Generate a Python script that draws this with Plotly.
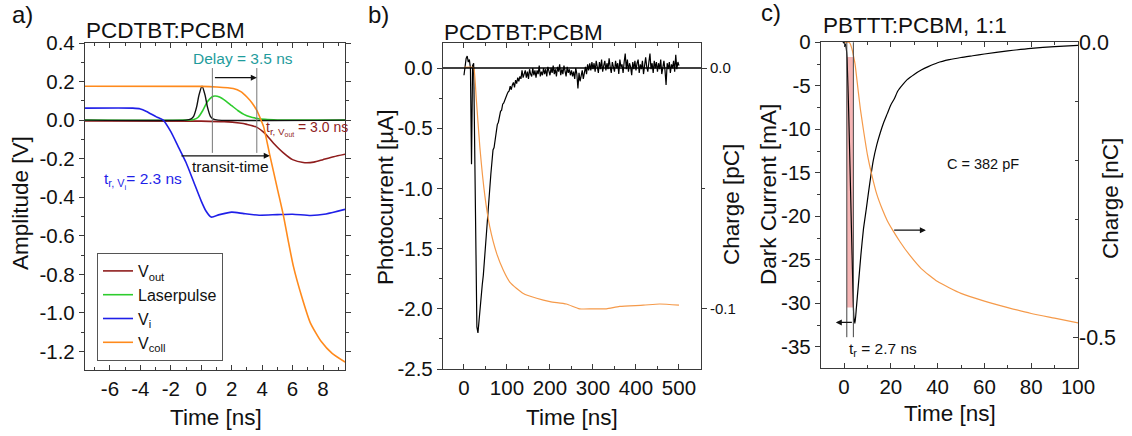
import numpy as np
import plotly.graph_objects as go

FONT = "Arial, Liberation Sans, sans-serif"

# ---------------- Panel a data ----------------
a_vout_t = [-7.64, 0.0, 1.5, 2.5, 3.0, 3.6, 4.2, 4.75, 5.4, 6.0, 6.7, 7.4, 8.0, 8.7, 9.45]
a_vout_v = [-0.004, -0.005, -0.008, -0.015, -0.022, -0.035, -0.07, -0.12, -0.17, -0.205, -0.22, -0.218, -0.205, -0.19, -0.177]

a_laser_t = [-7.64, -1.0, -0.5, -0.2, 0.1, 0.4, 0.7, 0.9, 1.2, 1.6, 2.0, 2.4, 2.8, 3.2, 3.6, 4.2, 5.0, 9.45]
a_laser_v = [0.0, 0.0, 0.003, 0.015, 0.05, 0.095, 0.12, 0.125, 0.12, 0.1, 0.075, 0.05, 0.03, 0.017, 0.01, 0.004, 0.001, 0.0]

a_pulse_t = [-7.64, -1.0, -0.7, -0.5, -0.3, -0.15, 0.05, 0.25, 0.4, 0.6, 0.8, 1.1, 9.45]
a_pulse_v = [0.0, 0.0, 0.005, 0.02, 0.07, 0.13, 0.176, 0.13, 0.07, 0.02, 0.005, 0.0, 0.0]

a_vi_t = [-7.64, -4.5, -4.0, -3.6, -2.95, -2.5, -2.0, -1.5, -1.0, -0.5, 0.0, 0.3, 0.65, 1.2, 2.0, 2.8, 3.8, 5.0, 6.0, 7.2, 8.2, 9.45]
a_vi_v = [0.062, 0.062, 0.058, 0.045, 0.017, 0.0, -0.06, -0.14, -0.22, -0.32, -0.42, -0.47, -0.503, -0.49, -0.477, -0.485, -0.493, -0.49, -0.488, -0.495, -0.487, -0.463]

a_vcoll_t = [-7.64, 0.0, 1.0, 2.1, 2.6, 3.0, 3.35, 3.65, 3.9, 4.1, 4.5, 5.0, 5.4, 5.7, 6.06, 6.6, 7.16, 7.9, 8.6, 9.45]
a_vcoll_v = [0.176, 0.175, 0.172, 0.164, 0.148, 0.12, 0.088, 0.05, 0.005, -0.035, -0.18, -0.355, -0.495, -0.62, -0.76, -0.915, -1.05, -1.15, -1.21, -1.255]

# ---------------- Panel b data ----------------
b_time = np.arange(0, 500.01, 2.5)
b_current = [
    -0.06, 0.03, 0.08, 0.10, 0.05, 0.07, 0.00, -0.80, 0.02, 0.04,
    -0.90, -1.70, -2.15, -2.20, -2.08, -1.98, -1.90, -1.80, -1.72, -1.60,
    -1.45, -1.32, -1.18, -1.05, -0.95, -0.88, -0.78, -0.68, -0.66, -0.58,
    -0.52, -0.47, -0.45, -0.40, -0.36, -0.35, -0.30, -0.29, -0.26, -0.25,
    -0.22, -0.20, -0.19, -0.15, -0.18, -0.14, -0.12, -0.16, -0.10, -0.13,
    -0.08, -0.11, -0.07, -0.09, -0.02, -0.08,
    -0.05, -0.02, -0.08, -0.03, -0.09, -0.01, -0.05, -0.07, 0.00, -0.06, -0.02, -0.08,
    -0.02, -0.05, 0.02, -0.07, -0.03, -0.06, 0.00, -0.05, -0.01, -0.07, 0.01, -0.03,
    -0.06, 0.00, -0.04, 0.02, -0.05, -0.01, -0.07, 0.01, -0.03, 0.03,
    -0.06, -0.01, -0.05, 0.02, -0.02, -0.07, 0.01, -0.04, -0.01, -0.06,
    -0.02, -0.07, -0.03, -0.09, 0.00, -0.05, -0.17, -0.04, -0.11, -0.06,
    -0.02, -0.09, -0.03, 0.01, -0.05, 0.03, -0.02, 0.04, -0.02, 0.05,
    -0.01, 0.04, -0.03, 0.06, 0.01, -0.04, 0.05, -0.01, 0.07, -0.03,
    0.02, 0.06, -0.02, 0.04, -0.01, 0.08, 0.01, -0.04, 0.05, 0.02,
    -0.03, 0.06, 0.00, 0.04, -0.05, 0.07, 0.01, 0.03, -0.04, 0.05,
    0.12, -0.01, 0.07, -0.03, 0.04, 0.01, -0.06, 0.05, -0.01, 0.06,
    -0.02, 0.04, 0.07, -0.04, 0.03, -0.01, 0.06, -0.05, 0.04, 0.09,
    0.01, -0.03, 0.05, 0.12, -0.01, 0.04, -0.04, 0.06, 0.00, 0.05,
    -0.03, 0.04, -0.01, 0.07, -0.05, 0.03, 0.06, -0.02, -0.14, 0.04,
    -0.01, 0.05, -0.04, 0.03, 0.00, 0.06, -0.03, 0.11, -0.01, 0.05, 0.02,
]
b_charge_t = [0, 21, 23, 28.7, 37, 48.5, 60, 76, 91.5, 107, 138, 169, 200, 238, 269, 300, 331, 362, 417, 455, 500]
b_charge_v = [0.0003, 0.0003, 0.0, -0.013, -0.033, -0.053, -0.066, -0.077, -0.084, -0.089, -0.0936, -0.0956, -0.097, -0.098, -0.1, -0.1, -0.1, -0.099, -0.0985, -0.098, -0.0985]

# ---------------- Panel c data ----------------
c_time = [-0.5, 0.5, 1.0, 1.3, 2.0, 2.8, 3.5, 4.2, 4.7, 5.3, 6.1, 7.2, 8.3, 9.5, 10.5, 11.5, 12.5, 14, 15.5, 17, 18.5, 20, 21.5, 23, 25, 27, 30, 33, 36, 40, 45, 50, 55, 60, 70, 80, 90, 100]
c_current = [0.0, -0.2, -0.8, -1.8, -8.0, -17.0, -25.0, -31.5, -32.3, -30.5, -28.0, -24.5, -21.5, -19.2, -17.2, -15.3, -13.6, -11.8, -10.4, -9.2, -8.2, -7.2, -6.5, -5.6, -4.9, -4.3, -3.7, -3.2, -2.8, -2.35, -2.0, -1.75, -1.55, -1.35, -1.0, -0.7, -0.5, -0.35]
c_charge_t = [0.4, 2.0, 2.6, 3.3, 4.0, 4.7, 6.0, 7.0, 8.3, 10, 11.8, 14, 16.5, 18.5, 20.8, 24, 28, 33, 40, 50, 60, 70, 80, 90, 100]
c_charge_v = [0.0, 0.0, -0.002, -0.01, -0.022, -0.036, -0.08, -0.113, -0.148, -0.19, -0.223, -0.257, -0.284, -0.302, -0.318, -0.338, -0.36, -0.383, -0.405, -0.425, -0.438, -0.449, -0.459, -0.467, -0.475]

# tick labels
a_xticks = [-6, -4, -2, 0, 2, 4, 6, 8]
a_xlabels = ["-6", "-4", "-2", "0", "2", "4", "6", "8"]
a_yticks = [0.4, 0.2, 0.0, -0.2, -0.4, -0.6, -0.8, -1.0, -1.2]
a_ylabels = ["0.4", "0.2", "0.0", "-0.2", "-0.4", "-0.6", "-0.8", "-1.0", "-1.2"]
b_xticks = [0, 100, 200, 300, 400, 500]
b_xlabels = ["0", "100", "200", "300", "400", "500"]
b_yticks = [0.0, -0.5, -1.0, -1.5, -2.0, -2.5]
b_ylabels = ["0.0", "-0.5", "-1.0", "-1.5", "-2.0", "-2.5"]
b_qticks = [0.0, -0.1]
b_qlabels = ["0.0", "-0.1"]
c_xticks = [0, 20, 40, 60, 80, 100]
c_xlabels = ["0", "20", "40", "60", "80", "100"]
c_yticks = [0, -5, -10, -15, -20, -25, -30, -35]
c_ylabels = ["0", "-5", "-10", "-15", "-20", "-25", "-30", "-35"]
c_qticks = [0.0, -0.5]
c_qlabels = ["0.0", "-0.5"]

W, H = 1132, 436
def px(x):
    return x / W
def py(y):
    return 1 - y / H

C_VOUT = "#8f1d1d"
C_LASER = "#2ecc2e"
C_VI = "#1f1fe8"
C_COLL = "#ff8a1c"
C_COLL_THIN = "#f59a4a"
C_TEAL = "#1f9c9c"
AX = "#3a3a3a"

fig = go.Figure()

# Panel a
fig.add_trace(go.Scatter(x=a_vout_t, y=a_vout_v, mode="lines", name="V<sub>out</sub>",
                         line=dict(color=C_VOUT, width=1.6, shape="spline", smoothing=0.6), xaxis="x", yaxis="y"))
fig.add_trace(go.Scatter(x=a_laser_t, y=a_laser_v, mode="lines", name="Laserpulse",
                         line=dict(color=C_LASER, width=1.6, shape="spline", smoothing=0.6), xaxis="x", yaxis="y"))
fig.add_trace(go.Scatter(x=a_pulse_t, y=a_pulse_v, mode="lines", showlegend=False,
                         line=dict(color="#111111", width=1.4, shape="spline", smoothing=0.6), xaxis="x", yaxis="y"))
fig.add_trace(go.Scatter(x=a_vi_t, y=a_vi_v, mode="lines", name="V<sub>i</sub>",
                         line=dict(color=C_VI, width=1.6, shape="spline", smoothing=0.6), xaxis="x", yaxis="y"))
fig.add_trace(go.Scatter(x=a_vcoll_t, y=a_vcoll_v, mode="lines", name="V<sub>coll</sub>",
                         line=dict(color=C_COLL, width=1.6, shape="spline", smoothing=0.6), xaxis="x", yaxis="y"))

# Panel b
fig.add_trace(go.Scatter(x=b_time, y=b_current, mode="lines", showlegend=False,
                         line=dict(color="#000000", width=1.2), xaxis="x2", yaxis="y2"))
fig.add_trace(go.Scatter(x=b_charge_t, y=b_charge_v, mode="lines", showlegend=False,
                         line=dict(color=C_COLL_THIN, width=1.2, shape="spline", smoothing=0.6), xaxis="x2", yaxis="y4"))

# Panel c
fig.add_trace(go.Scatter(x=c_time, y=c_current, mode="lines", showlegend=False,
                         line=dict(color="#000000", width=1.2, shape="spline", smoothing=0.5), xaxis="x3", yaxis="y3"))
fig.add_trace(go.Scatter(x=c_charge_t, y=c_charge_v, mode="lines", showlegend=False,
                         line=dict(color=C_COLL_THIN, width=1.2, shape="spline", smoothing=0.5), xaxis="x3", yaxis="y5"))

tickfont = dict(family=FONT, size=20.5, color="#111")

def xax(domain, anchor, rng, vals, labels, minor_dtick):
    return dict(domain=domain, anchor=anchor, range=rng, tickmode="array", tickvals=vals, ticktext=labels,
                showline=True, linecolor=AX, linewidth=1.3, mirror="ticks", ticks="inside", ticklen=5,
                tickcolor=AX, showgrid=False, zeroline=False, tickfont=tickfont, automargin=False,
                minor=dict(tickmode="linear", tick0=0, dtick=minor_dtick, ticks="inside", ticklen=3, tickcolor=AX))

def yax(domain, anchor, rng, vals, labels, minor_dtick, mirror):
    return dict(domain=domain, anchor=anchor, range=rng, tickmode="array", tickvals=vals, ticktext=labels,
                showline=True, linecolor=AX, linewidth=1.3, mirror=mirror, ticks="outside", ticklen=5,
                tickcolor=AX, showgrid=False, zeroline=False, tickfont=tickfont, automargin=False,
                minor=dict(tickmode="linear", tick0=0, dtick=minor_dtick, ticks="outside", ticklen=3, tickcolor=AX))

fig.update_layout(
    template="none",
    width=W, height=H, margin=dict(l=0, r=0, t=0, b=0, pad=0, autoexpand=False),
    paper_bgcolor="white", plot_bgcolor="white",
    font=dict(family=FONT, color="#111"),
    xaxis=xax([px(85), px(345)], "y", [-7.64, 9.446], a_xticks, a_xlabels, 1),
    yaxis=yax([py(370), py(43)], "x", [-1.296, 0.4], a_yticks, a_ylabels, 0.1, "ticks"),
    xaxis2=xax([px(443), px(701)], "y2", [-48.8, 551.2], b_xticks, b_xlabels, 50),
    yaxis2=yax([py(369), py(43)], "x2", [-2.5, 0.208], b_yticks, b_ylabels, 0.25, True),
    xaxis3=xax([px(821), px(1078)], "y3", [-9.83, 100], c_xticks, c_xlabels, 10),
    yaxis3=yax([py(368), py(42)], "x3", [-37.44, 0.03], c_yticks, c_ylabels, 2.5, True),
    yaxis4=dict(overlaying="y2", side="right", anchor="x2", range=[-0.125, 0.0104], tickmode="array",
                tickvals=b_qticks, ticktext=b_qlabels, showline=False, ticks="outside", ticklen=5, tickcolor=AX,
                showgrid=False, zeroline=False, tickfont=dict(family=FONT, size=15, color="#111"), automargin=False,
                minor=dict(tickmode="linear", tick0=0, dtick=0.05, ticks="outside", ticklen=3, tickcolor=AX)),
    yaxis5=dict(overlaying="y3", side="right", anchor="x3", range=[-0.5513, 0.0005], tickmode="array",
                tickvals=c_qticks, ticktext=c_qlabels, showline=False, ticks="inside", ticklen=5, tickcolor=AX,
                showgrid=False, zeroline=False, tickfont=dict(family=FONT, size=21.5, color="#111"), automargin=False,
                minor=dict(tickmode="linear", tick0=0, dtick=0.1, ticks="inside", ticklen=3, tickcolor=AX)),
    legend=dict(x=px(97), y=py(253), xanchor="left", yanchor="top", bgcolor="white",
                bordercolor="#555", borderwidth=1, font=dict(family=FONT, size=16, color="#111"),
                tracegroupgap=0, itemwidth=30),
    showlegend=True,
)

shapes = []
# panel a vertical guide lines
for xv in [0.73, 3.65]:
    shapes.append(dict(type="line", xref="x", yref="y", x0=xv, x1=xv, y0=0.27, y1=-0.17,
                       line=dict(color="#777", width=1)))
# panel b zero line
shapes.append(dict(type="line", xref="x2 domain", yref="y2", x0=0, x1=1, y0=0, y1=0,
                   line=dict(color="#000", width=1.5)))
# panel c shaded rise region and guides
shapes.append(dict(type="rect", xref="x3", yref="y3", x0=1.2, x1=4.0, y0=-30.5, y1=-1.7,
                   fillcolor="rgba(238,120,120,0.55)", line=dict(width=0), layer="below"))
for xv in [1.2, 4.0]:
    shapes.append(dict(type="line", xref="x3", yref="y3", x0=xv, x1=xv, y0=0, y1=-33.9,
                       line=dict(color="#444", width=1)))
fig.update_layout(shapes=shapes)

ann = []
def ptext(text, x, y, size, angle=0, color="#111", xanchor="center"):
    ann.append(dict(text=text, x=px(x), y=py(y), xref="paper", yref="paper", showarrow=False,
                    xanchor=xanchor, yanchor="middle", textangle=angle,
                    font=dict(family=FONT, size=size, color=color)))

ptext("a)", 22, 15, 24)
ptext("b)", 378, 15, 24)
ptext("c)", 771, 13, 24)
ptext("PCDTBT:PCBM", 84, 31, 22.5, xanchor="left")
ptext("PCDTBT:PCBM", 442, 32, 22.5, xanchor="left")
ptext("PBTTT:PCBM, 1:1", 821, 26, 22.5, xanchor="left")
ptext("Amplitude [V]", 21, 203, 22.5, angle=-90)
ptext("Time [ns]", 216, 417, 22.5)
ptext("Photocurrent [µA]", 385, 197, 22.5, angle=-90)
ptext("Charge [pC]", 731, 205, 22.5, angle=-90)
ptext("Time [ns]", 572, 417, 22.5)
ptext("Dark Current [mA]", 768, 195, 22.5, angle=-90)
ptext("Charge [nC]", 1110, 199, 22.5, angle=-90)
ptext("Time [ns]", 950, 413, 22.5)

def dtext(text, x, y, xr, yr, size, color="#111", xanchor="center"):
    ann.append(dict(text=text, x=x, y=y, xref=xr, yref=yr, showarrow=False, xanchor=xanchor,
                    yanchor="middle", font=dict(family=FONT, size=size, color=color)))

def arrow(x0, y0, x1, y1, xr, yr):
    ann.append(dict(text="", x=x1, y=y1, ax=x0, ay=y0, xref=xr, yref=yr, axref=xr, ayref=yr,
                    showarrow=True, arrowhead=2, arrowsize=1, arrowwidth=1.2, arrowcolor="#111"))

dtext("Delay = 3.5 ns", 2.75, 0.32, "x", "y", 15.5, C_TEAL)
arrow(0.8, 0.22, 3.65, 0.22, "x", "y")
arrow(-1.4, -0.185, 4.5, -0.185, "x", "y")
dtext("transit-time", 1.9, -0.243, "x", "y", 15.5)
dtext("t<sub>r, V<sub>out</sub></sub> = 3.0 ns", 4.1, -0.045, "x", "y", 14, C_VOUT, xanchor="left")
dtext("t<sub>r, V<sub>i</sub></sub>= 2.3 ns", -6.55, -0.317, "x", "y", 15.5, C_VI, xanchor="left")

dtext("C = 382 pF", 59.6, -14.0, "x3", "y3", 14.5)
dtext("t<sub>r</sub> = 2.7 ns", 1.1, -35.3, "x3", "y3", 15.5, xanchor="left")
arrow(4.0, -32.2, -3.5, -32.2, "x3", "y3")
arrow(20.8, -21.6, 35, -21.6, "x3", "y3")

fig.update_layout(annotations=ann)
fig.write_html("out.html")
